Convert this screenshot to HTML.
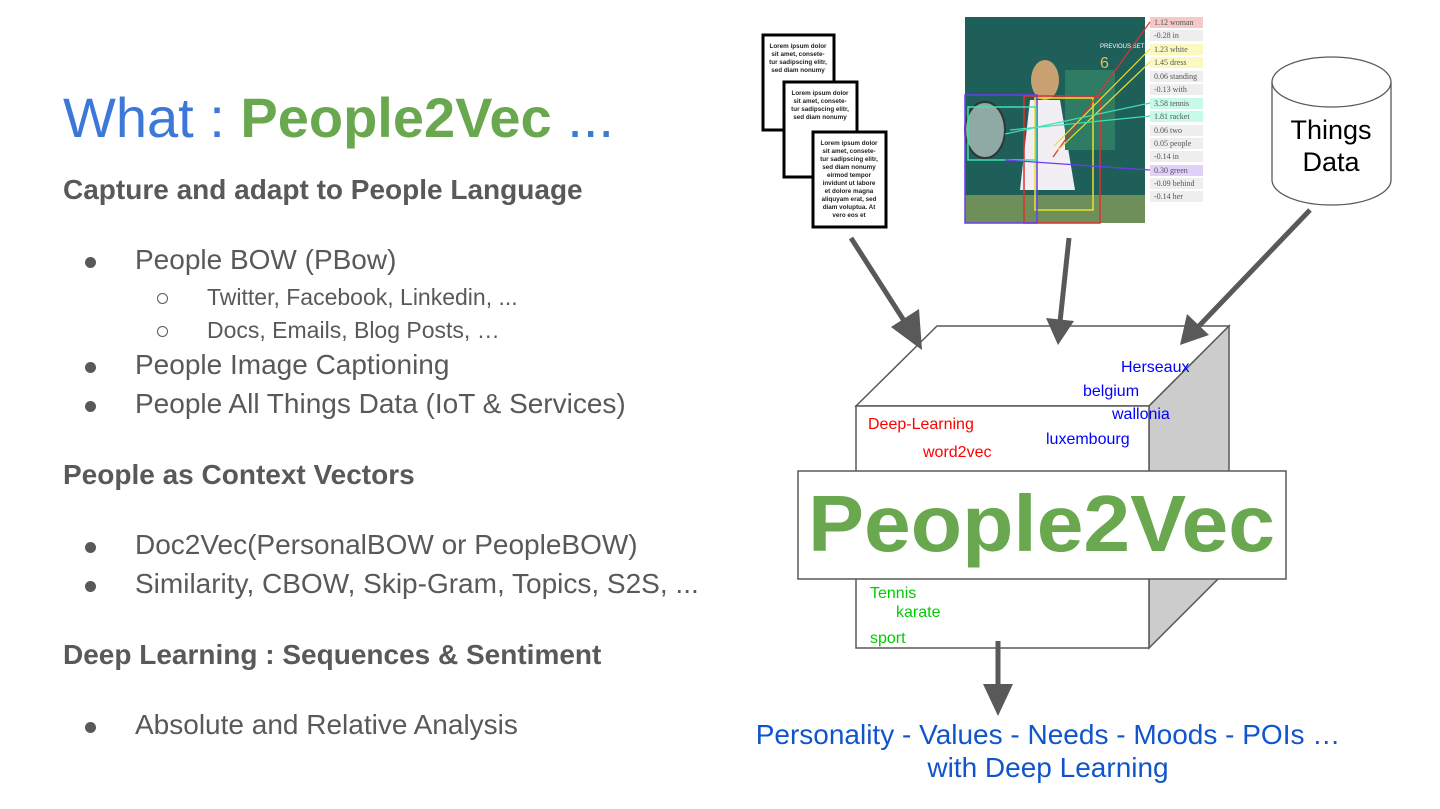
<!DOCTYPE html>
<html><head><meta charset="utf-8"><style>
html,body{margin:0;padding:0;background:#fff;}
body{width:1440px;height:809px;position:relative;overflow:hidden;font-family:"Liberation Sans",Arial,sans-serif;}
.a{position:absolute;white-space:nowrap;}
.h{font-weight:bold;font-size:28px;color:#595959;}
.b{font-size:28px;color:#595959;}
.s{font-size:23px;color:#595959;}
.dot{position:absolute;width:11px;height:11px;border-radius:50%;background:#595959;}
.cir{position:absolute;width:9px;height:9px;border-radius:50%;border:1.3px solid #595959;}
</style></head><body>
<div class="a" style="left:63px;top:85px;font-size:56px;color:#3c78d8;">What : <b style="color:#6aa84f">People2Vec</b> ...</div>
<div class="a h" style="left:63px;top:174px;">Capture and adapt to People Language</div>
<div class="dot" style="left:85px;top:257px"></div><div class="a b" style="left:135px;top:244px;">People BOW (PBow)</div>
<div class="cir" style="left:157px;top:293px"></div><div class="a s" style="left:207px;top:284px;">Twitter, Facebook, Linkedin, ...</div>
<div class="cir" style="left:157px;top:326px"></div><div class="a s" style="left:207px;top:317px;">Docs, Emails, Blog Posts, …</div>
<div class="dot" style="left:85px;top:362px"></div><div class="a b" style="left:135px;top:349px;">People Image Captioning</div>
<div class="dot" style="left:85px;top:401px"></div><div class="a b" style="left:135px;top:388px;">People All Things Data (IoT &amp; Services)</div>
<div class="a h" style="left:63px;top:459px;">People as Context Vectors</div>
<div class="dot" style="left:85px;top:542px"></div><div class="a b" style="left:135px;top:529px;">Doc2Vec(PersonalBOW or PeopleBOW)</div>
<div class="dot" style="left:85px;top:581px"></div><div class="a b" style="left:135px;top:568px;">Similarity, CBOW, Skip-Gram, Topics, S2S, ...</div>
<div class="a h" style="left:63px;top:639px;">Deep Learning : Sequences &amp; Sentiment</div>
<div class="dot" style="left:85px;top:722px"></div><div class="a b" style="left:135px;top:709px;">Absolute and Relative Analysis</div>

<svg width="1440" height="809" style="position:absolute;left:0;top:0" font-family="Liberation Sans, Arial, sans-serif">
<g font-size="6.3" font-weight="bold" text-anchor="middle" fill="#222">
<rect x="763" y="35" width="71" height="95" fill="#fff" stroke="#000" stroke-width="3"/>
<text x="798" y="48">Lorem ipsum dolor</text><text x="798" y="56">sit amet, consete-</text><text x="798" y="64">tur sadipscing elitr,</text><text x="798" y="72">sed diam nonumy</text>
<rect x="784" y="82" width="73" height="95" fill="#fff" stroke="#000" stroke-width="3"/>
<text x="820" y="95">Lorem ipsum dolor</text><text x="820" y="103">sit amet, consete-</text><text x="820" y="111">tur sadipscing elitr,</text><text x="820" y="119">sed diam nonumy</text>
<rect x="813" y="132" width="73" height="95" fill="#fff" stroke="#000" stroke-width="3"/>
<text x="849" y="145">Lorem ipsum dolor</text><text x="849" y="153">sit amet, consete-</text><text x="849" y="161">tur sadipscing elitr,</text><text x="849" y="169">sed diam nonumy</text><text x="849" y="177">eirmod tempor</text><text x="849" y="185">invidunt ut labore</text><text x="849" y="193">et dolore magna</text><text x="849" y="201">aliquyam erat, sed</text><text x="849" y="209">diam voluptua. At</text><text x="849" y="217">vero eos et</text>
</g>
<rect x="965" y="17" width="180" height="206" fill="#1f5f5a"/>
<rect x="965" y="195" width="180" height="28" fill="#6f8f5a"/>
<ellipse cx="1045" cy="80" rx="14" ry="20" fill="#c9a070"/>
<path d="M1030 100 L1060 100 L1075 190 L1020 190 Z" fill="#f1eef4"/>
<rect x="1065" y="70" width="50" height="80" fill="#2f7c64"/>
<ellipse cx="985" cy="130" rx="20" ry="28" fill="#8fa9a5" stroke="#333" stroke-width="2"/>
<rect x="1024" y="96" width="76" height="127" fill="none" stroke="#e03030" stroke-width="1.5"/>
<rect x="1035" y="98" width="58" height="112" fill="none" stroke="#e6e030" stroke-width="1.5"/>
<rect x="965" y="95" width="72" height="128" fill="none" stroke="#6a3cf0" stroke-width="1.5"/>
<rect x="968" y="107" width="68" height="53" fill="none" stroke="#40e0b0" stroke-width="1.5"/>
<text x="1100" y="48" font-size="6" fill="#fff">PREVIOUS SETS</text>
<text x="1100" y="68" font-size="16" fill="#e0c060">6</text>
<g font-family="Liberation Serif, serif" font-size="8" fill="#555">
<rect x="1150" y="17" width="53" height="11" fill="#f6c8c8"/><text x="1154" y="25">1.12 woman</text>
<rect x="1150" y="30" width="53" height="11" fill="#eee"/><text x="1154" y="38">-0.28 in</text>
<rect x="1150" y="44" width="53" height="11" fill="#fafac0"/><text x="1154" y="52">1.23 white</text>
<rect x="1150" y="57" width="53" height="11" fill="#fafac0"/><text x="1154" y="65">1.45 dress</text>
<rect x="1150" y="71" width="53" height="11" fill="#eee"/><text x="1154" y="79">0.06 standing</text>
<rect x="1150" y="84" width="53" height="11" fill="#eee"/><text x="1154" y="92">-0.13 with</text>
<rect x="1150" y="98" width="53" height="11" fill="#c8fae8"/><text x="1154" y="106">3.58 tennis</text>
<rect x="1150" y="111" width="53" height="11" fill="#c8fae8"/><text x="1154" y="119">1.81 racket</text>
<rect x="1150" y="125" width="53" height="11" fill="#eee"/><text x="1154" y="133">0.06 two</text>
<rect x="1150" y="138" width="53" height="11" fill="#eee"/><text x="1154" y="146">0.05 people</text>
<rect x="1150" y="151" width="53" height="11" fill="#eee"/><text x="1154" y="159">-0.14 in</text>
<rect x="1150" y="165" width="53" height="11" fill="#e0d0fa"/><text x="1154" y="173">0.30 green</text>
<rect x="1150" y="178" width="53" height="11" fill="#eee"/><text x="1154" y="186">-0.09 behind</text>
<rect x="1150" y="191" width="53" height="11" fill="#eee"/><text x="1154" y="199">-0.14 her</text>
</g>
<line x1="1150" y1="22" x2="1053" y2="157" stroke="#e03030" stroke-width="1.2"/>
<line x1="1150" y1="49" x2="1054" y2="146" stroke="#e6e030" stroke-width="1.2"/>
<line x1="1150" y1="62" x2="1058" y2="150" stroke="#e6e030" stroke-width="1.2"/>
<line x1="1150" y1="103" x2="1005" y2="134" stroke="#40e0b0" stroke-width="1.2"/>
<line x1="1150" y1="116" x2="1010" y2="130" stroke="#40e0b0" stroke-width="1.2"/>
<line x1="1150" y1="170" x2="1005" y2="160" stroke="#6a3cf0" stroke-width="1.2"/>
<path d="M1272 82 L1272 180 A59.5 25 0 0 0 1391 180 L1391 82" fill="#fff" stroke="#595959" stroke-width="1.3"/>
<ellipse cx="1331.5" cy="82" rx="59.5" ry="25" fill="#fff" stroke="#595959" stroke-width="1.3"/>
<text x="1331" y="139" font-size="27" text-anchor="middle" fill="#000">Things</text>
<text x="1331" y="171" font-size="27" text-anchor="middle" fill="#000">Data</text>
<polygon points="856,406 937,326 1229,326 1149,406" fill="#fff" stroke="#595959" stroke-width="1.5"/>
<polygon points="1149,406 1229,326 1229,471 1218,579 1149,648" fill="#cccccc" stroke="#595959" stroke-width="1.5"/>
<rect x="856" y="406" width="293" height="242" fill="#fff" stroke="#595959" stroke-width="1.5"/>
<rect x="798" y="471" width="488" height="108" fill="#fff" stroke="#595959" stroke-width="1.5"/>
<text x="808" y="551" font-size="80" font-weight="bold" fill="#6aa84f" textLength="467" lengthAdjust="spacingAndGlyphs">People2Vec</text>
<g font-size="16">
<text x="1121" y="372" fill="#0000ff">Herseaux</text>
<text x="1083" y="396" fill="#0000ff">belgium</text>
<text x="1112" y="419" fill="#0000ff">wallonia</text>
<text x="1046" y="444" fill="#0000ff">luxembourg</text>
<text x="868" y="429" fill="#ff0000">Deep-Learning</text>
<text x="923" y="457" fill="#ff0000">word2vec</text>
<text x="870" y="598" fill="#00cc00">Tennis</text>
<text x="896" y="617" fill="#00cc00">karate</text>
<text x="870" y="643" fill="#00cc00">sport</text>
</g>
<g stroke="#595959" stroke-width="5" fill="#595959">
<line x1="851" y1="238" x2="910" y2="330"/>
<line x1="1069" y1="238" x2="1060" y2="322"/>
<line x1="1310" y1="210" x2="1198" y2="327"/>
<line x1="998" y1="641" x2="998" y2="690"/>
</g>
<g fill="#595959">
<polygon points="922,350 891,327 919,309"/>
<polygon points="1058,345 1046,318 1074,321"/>
<polygon points="1180,345 1187,314 1209,335"/>
<polygon points="998,716 983,684 1013,684"/>
</g>
</svg>
<div class="a" style="left:0;width:2096px;text-align:center;top:719px;font-size:28px;color:#1155cc;">Personality - Values - Needs - Moods - POIs …</div>
<div class="a" style="left:0;width:2096px;text-align:center;top:752px;font-size:28px;color:#1155cc;">with Deep Learning</div>
</body></html>
